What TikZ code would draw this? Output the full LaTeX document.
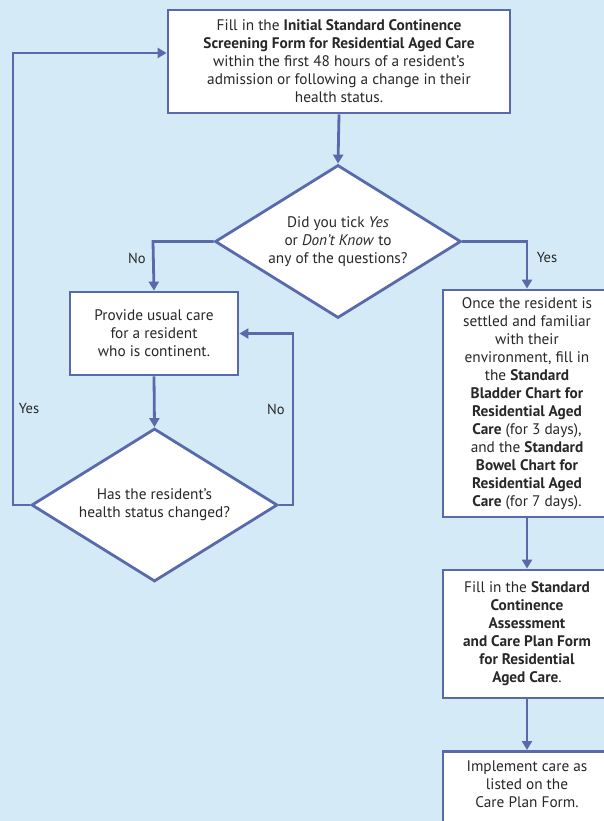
\documentclass[tikz,border=0pt]{standalone}
\usepackage{fontspec}
\setmainfont{PT Sans}
\usetikzlibrary{shapes.geometric,arrows.meta}
\definecolor{bgc}{RGB}{212,234,246}
\definecolor{linec}{RGB}{88,106,172}
\definecolor{txtc}{RGB}{40,40,40}
\tikzset{
  box/.style={draw=linec, line width=2.8pt, fill=white, align=center, text=txtc, inner sep=0pt},
  dia/.style={diamond, draw=linec, line width=2.8pt, fill=white, align=center, text=txtc, inner sep=0pt, aspect=1.6, minimum width=246pt, minimum height=153pt},
  conn/.style={draw=linec, line width=2.8pt, -{Triangle[length=9pt,width=10pt]}},
  lbl/.style={text=txtc, font=\fontsize{14.5}{16}\selectfont},
}
\begin{document}
\begin{tikzpicture}[x=1pt,y=-1pt, font=\fontsize{15.3}{18}\selectfont]
\useasboundingbox (0,0) rectangle (604,821);
\fill[bgc] (0,0) rectangle (604,821);
\clip (0,0) rectangle (604,821);
\node[box, minimum width=342pt, minimum height=103pt] (top) at (339,61.5)
 {Fill in the \textbf{Initial Standard Continence}\\
  \textbf{Screening Form for Residential Aged Care}\\
  within the first 48 hours of a resident's\\
  admission or following a change in their\\
  health status.};
\node[dia] (d1) at (338,241.5) {Did you tick \textit{Yes}\\ or \textit{Don't Know} to\\ any of the questions?};
\node[box, minimum width=168pt, minimum height=83pt] (b1) at (154,333.5)
 {Provide usual care\\ for a resident\\ who is continent.};
\node[dia] (d2) at (154.5,505) {Has the resident's\\ health status changed?};
\node[box, minimum width=168pt, minimum height=227pt] (r1) at (527,403.5)
 {Once the resident is\\ settled and familiar\\ with their\\ environment, fill in\\ the \textbf{Standard}\\ \textbf{Bladder Chart for}\\ \textbf{Residential Aged}\\ \textbf{Care} (for 3 days),\\ and the \textbf{Standard}\\ \textbf{Bowel Chart for}\\ \textbf{Residential Aged}\\ \textbf{Care} (for 7 days).};
\node[box, minimum width=168pt, minimum height=128pt] (r2) at (527,634)
 {Fill in the \textbf{Standard}\\ \textbf{Continence}\\ \textbf{Assessment}\\ \textbf{and Care Plan Form}\\ \textbf{for Residential}\\ \textbf{Aged Care}.};
\node[box, minimum width=168pt, minimum height=110pt, anchor=north] (r3) at (527,750) {};
\node[text=txtc, align=center, anchor=north] (r3t) at (527,757)
 {Implement care as\\ listed on the\\ Care Plan Form.};
\coordinate (cy) at (13,53);
\coordinate (cn) at (293,333.5);
\coordinate (cl) at (153,241.5);
\coordinate (cr) at (527,241.5);
\draw[conn] (top.south) -- (d1.north);
\draw[conn] (d1.west) -- (cl) -- (b1.north);
\draw[conn] (d1.east) -- (cr) -- (r1.north);
\draw[conn] (b1.south) -- (d2.north);
\draw[conn] (d2.west) -| (cy) -- (top.west |- cy);
\draw[conn] (d2.east) -| (cn) -- (b1.east);
\draw[conn] (r1.south) -- (r2.north);
\draw[conn] (r2.south) -- (r3.north);
\node[lbl] (lno1) at (137,258) {No};
\node[lbl] (lyes1) at (547,258) {Yes};
\node[lbl] (lyes2) at (29,409) {Yes};
\node[lbl] (lno2) at (276,409) {No};
\end{tikzpicture}
\end{document}
